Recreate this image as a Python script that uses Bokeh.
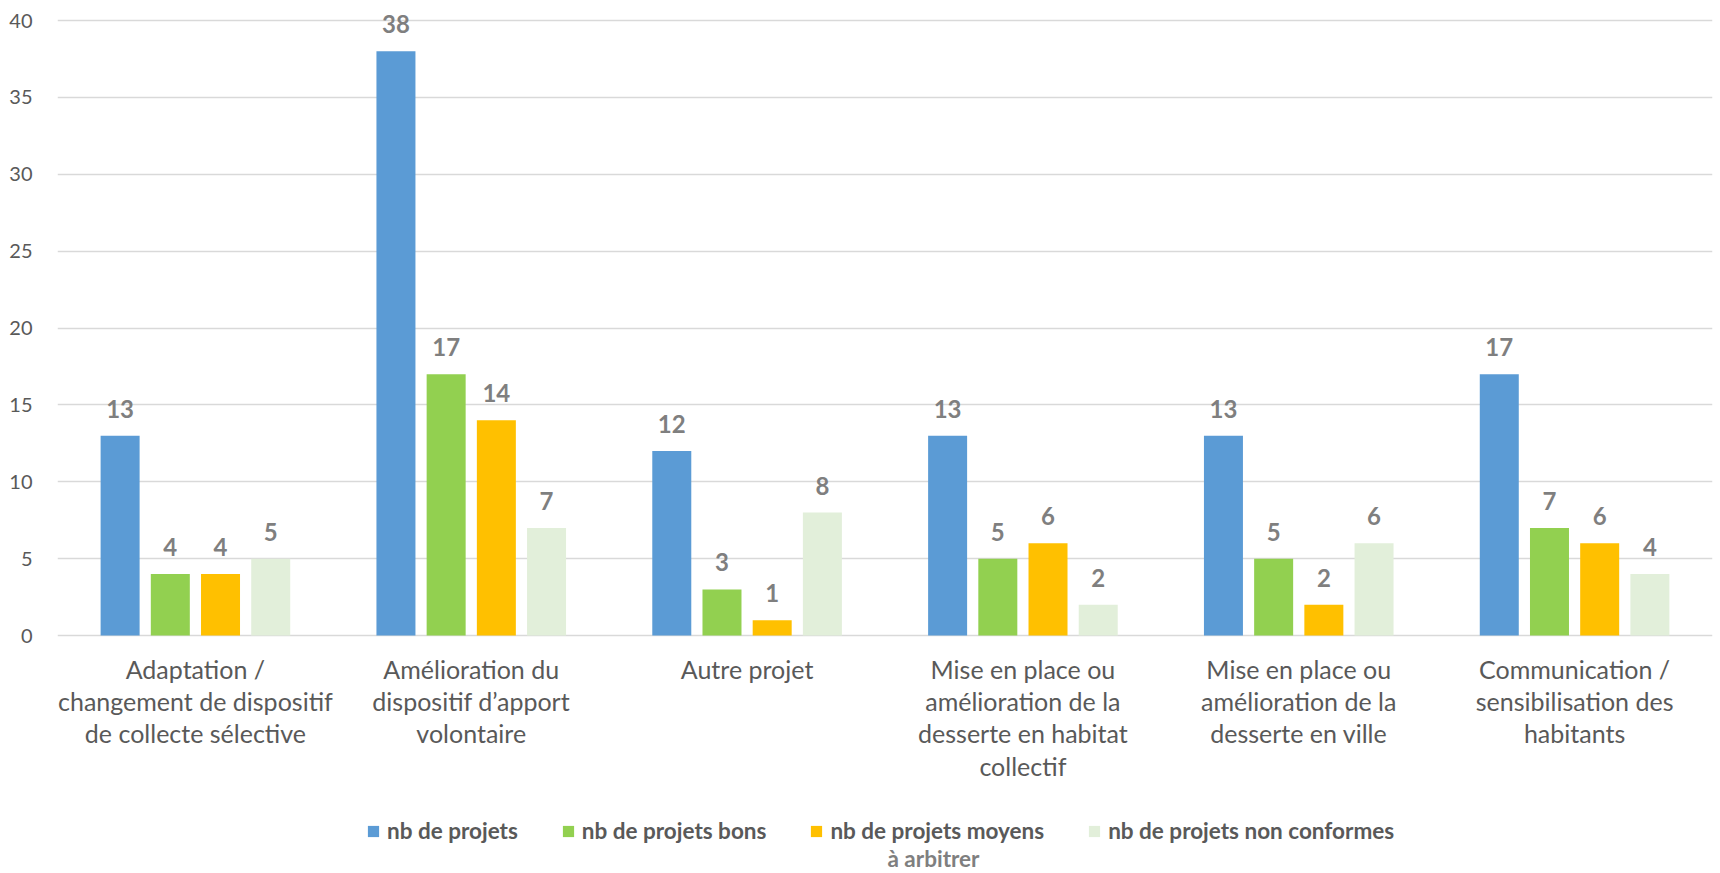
import numpy as np
from bokeh.plotting import figure
from bokeh.models import (ColumnDataSource, FixedTicker, Legend, LegendItem, Label, Range1d)
from bokeh.core.properties import value
from bokeh.embed import file_html
from bokeh.resources import INLINE

categories = [
    "Adaptation /\nchangement de dispositif\nde collecte sélective",
    "Amélioration du\ndispositif d’apport\nvolontaire",
    "Autre projet",
    "Mise en place ou\namélioration de la\ndesserte en habitat\ncollectif",
    "Mise en place ou\namélioration de la\ndesserte en ville",
    "Communication /\nsensibilisation des\nhabitants",
]
series_names = ["nb de projets", "nb de projets bons", "nb de projets moyens",
                "nb de projets non conformes"]
legend_extra = "à arbitrer"
nb_projets = [13, 38, 12, 13, 13, 17]
nb_bons = [4, 17, 3, 5, 5, 7]
nb_moyens = [4, 14, 1, 6, 2, 6]
nb_non_conformes = [5, 7, 8, 2, 6, 4]
colors = ["#5B9BD5", "#92D050", "#FFC000", "#E2EFDA"]
y_ticks = [0, 5, 10, 15, 20, 25, 30, 35, 40]

FONT = "Lato"
W, H = 1720, 873
LEFT, RIGHT = 57, 8
TOP_PAD = 20          # px between frame top and the 40 gridline
PX_PER_UNIT = 15.375  # vertical scale
y_max = 40 + TOP_PAD / PX_PER_UNIT
y_min = y_max - H / PX_PER_UNIT
px_per_cat = (W - LEFT - RIGHT) / len(categories)

p = figure(width=W, height=H, output_backend="svg", toolbar_location=None,
           x_range=Range1d(0, len(categories)), y_range=Range1d(y_min, y_max),
           x_axis_location=None,
           min_border_left=LEFT, min_border_right=RIGHT, min_border_top=0,
           min_border_bottom=0)
p.outline_line_color = None
p.background_fill_color = "white"
p.border_fill_color = "white"

centers = np.arange(len(categories)) + 0.5
offsets = [-0.273, -0.091, 0.091, 0.273]
bar_w = 0.1414
all_series = [nb_projets, nb_bons, nb_moyens, nb_non_conformes]

renderers = []
for vals, off, col in zip(all_series, offsets, colors):
    src = ColumnDataSource(dict(x=centers + off, top=vals, lbl=[str(v) for v in vals]))
    r = p.vbar(x="x", top="top", width=bar_w, source=src, fill_color=col, line_color=None)
    renderers.append(r)
    p.text(x="x", y="top", text="lbl", source=src, text_align="center",
           text_baseline="middle", y_offset=-27, text_font=value(FONT),
           text_font_style="bold", text_font_size="24px", text_color="#7f7f7f")

# category labels below the baseline
cat_src = ColumnDataSource(dict(x=centers, y=[0] * len(categories), t=categories))
p.text(x="x", y="y", text="t", source=cat_src, text_align="center",
       text_baseline="top", y_offset=18, text_font=value(FONT),
       text_font_size="25px", text_color="#595959", text_line_height=1.08)

p.yaxis.ticker = FixedTicker(ticks=y_ticks)
p.yaxis.major_label_text_font = FONT
p.yaxis.major_label_text_font_size = "20px"
p.yaxis.major_label_text_color = "#595959"
p.yaxis.major_label_standoff = 19
p.yaxis.axis_line_color = None
p.yaxis.major_tick_line_color = None
p.yaxis.minor_tick_line_color = None

p.xgrid.grid_line_color = None
p.ygrid.grid_line_color = "#d9d9d9"
p.ygrid.grid_line_width = 1.5

legend = Legend(items=[LegendItem(label=n, renderers=[r]) for n, r in zip(series_names, renderers)],
                orientation="horizontal", location=(309, 29),
                label_text_font=FONT, label_text_font_style="bold",
                label_text_font_size="22.5px", label_text_color="#595959",
                glyph_width=14, glyph_height=14, label_standoff=7, spacing=43,
                padding=0, margin=0, border_line_color=None, background_fill_alpha=0)
p.add_layout(legend, "center")

p.add_layout(Label(x=(933 - LEFT) / px_per_cat, y=y_max - 858 / PX_PER_UNIT, text=legend_extra,
                   text_align="center", text_baseline="middle", text_font=FONT,
                   text_font_style="bold", text_font_size="22.5px", text_color="#7f7f7f"))

open("out.html", "w").write(file_html(p, INLINE))
